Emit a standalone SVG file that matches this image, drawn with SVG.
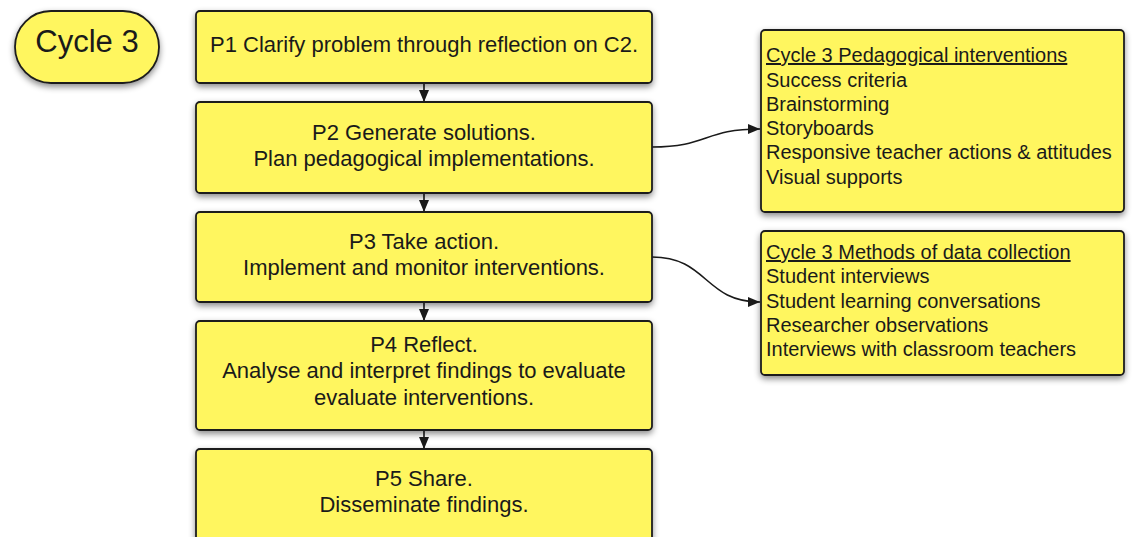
<svg xmlns="http://www.w3.org/2000/svg" width="1133" height="537" viewBox="0 0 1133 537">
  <style>
    .box { fill: #fff65f; stroke: #1c1c1c; stroke-width: 1.8; filter: url(#shadow); }
    .t { font-family: "Liberation Sans", Arial, sans-serif; fill: #1a1a1a; }
    .mid { font-size: 22px; text-anchor: middle; }
    .list { font-size: 20px; }
    .conn { fill: none; stroke: #1a1a1a; stroke-width: 1.6; }
  </style>
  <defs>
    <filter id="shadow" x="-10%" y="-20%" width="120%" height="150%">
      <feDropShadow dx="0" dy="3" stdDeviation="3" flood-color="#000" flood-opacity="0.45"/>
    </filter>
    <marker id="arrow" viewBox="0 0 12 10" refX="12" refY="5" markerWidth="12" markerHeight="10" markerUnits="userSpaceOnUse" orient="auto">
      <path d="M0,0 L12,5 L0,10 Z" fill="#1a1a1a"/>
    </marker>
  </defs>

  <rect width="1133" height="537" fill="#ffffff"/>

  <!-- connectors -->
  <g id="connectors">
    <path class="conn" d="M424,83 L424,102" marker-end="url(#arrow)"/>
    <path class="conn" d="M424,193 L424,212" marker-end="url(#arrow)"/>
    <path class="conn" d="M424,302 L424,321" marker-end="url(#arrow)"/>
    <path class="conn" d="M424,430 L424,449" marker-end="url(#arrow)"/>
    <path class="conn" d="M652,147 C708,147 704,129 760,129" marker-end="url(#arrow)"/>
    <path class="conn" d="M652,257 C708,257 704,302 760,302" marker-end="url(#arrow)"/>
  </g>

  <!-- cycle label -->
  <g id="cycle3">
    <rect class="box" x="15" y="11" width="144" height="72" rx="36" ry="36"/>
    <text class="t" x="87" y="52" font-size="31" text-anchor="middle">Cycle 3</text>
  </g>

  <!-- phases -->
  <g id="p1">
    <rect class="box" x="196" y="11" width="456" height="72" rx="4"/>
    <text class="t mid" x="424" y="52">P1 Clarify problem through reflection on C2.</text>
  </g>
  <g id="p2">
    <rect class="box" x="196" y="102" width="456" height="91" rx="4"/>
    <text class="t mid" x="424" y="140">P2 Generate solutions.</text>
    <text class="t mid" x="424" y="166">Plan pedagogical implementations.</text>
  </g>
  <g id="p3">
    <rect class="box" x="196" y="212" width="456" height="90" rx="4"/>
    <text class="t mid" x="424" y="249">P3 Take action.</text>
    <text class="t mid" x="424" y="275">Implement and monitor interventions.</text>
  </g>
  <g id="p4">
    <rect class="box" x="196" y="321" width="456" height="109" rx="4"/>
    <text class="t mid" x="424" y="352">P4 Reflect.</text>
    <text class="t mid" x="424" y="378">Analyse and interpret findings to evaluate</text>
    <text class="t mid" x="424" y="405">evaluate interventions.</text>
  </g>
  <g id="p5">
    <rect class="box" x="196" y="449" width="456" height="100" rx="4"/>
    <text class="t mid" x="424" y="486">P5 Share.</text>
    <text class="t mid" x="424" y="512">Disseminate findings.</text>
  </g>

  <!-- side notes -->
  <g id="interventions">
    <rect class="box" x="761" y="30" width="363" height="182" rx="4"/>
    <text class="t list" x="766" y="62" text-decoration="underline">Cycle 3 Pedagogical interventions</text>
    <text class="t list" x="766" y="86.5">Success criteria</text>
    <text class="t list" x="766" y="110.7">Brainstorming</text>
    <text class="t list" x="766" y="135">Storyboards</text>
    <text class="t list" x="766" y="159.3">Responsive teacher actions &amp; attitudes</text>
    <text class="t list" x="766" y="183.5">Visual supports</text>
  </g>
  <g id="data-collection">
    <rect class="box" x="761" y="231" width="363" height="144" rx="4"/>
    <text class="t list" x="766" y="259" text-decoration="underline">Cycle 3 Methods of data collection</text>
    <text class="t list" x="766" y="283.3">Student interviews</text>
    <text class="t list" x="766" y="307.6">Student learning conversations</text>
    <text class="t list" x="766" y="331.9">Researcher observations</text>
    <text class="t list" x="766" y="356.2">Interviews with classroom teachers</text>
  </g>
</svg>
